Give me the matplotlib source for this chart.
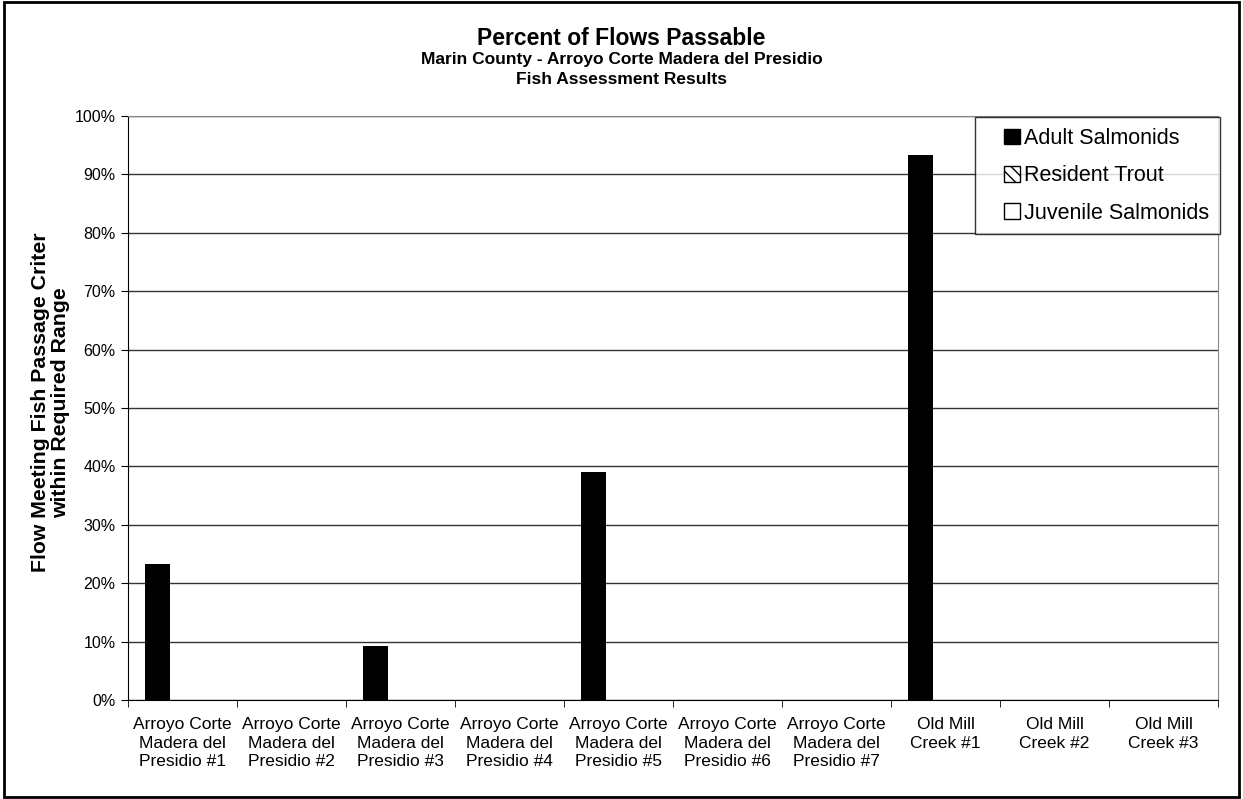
import numpy as np
import matplotlib
matplotlib.use("Agg")
import matplotlib.pyplot as plt
from matplotlib.patches import Rectangle, Patch
from matplotlib.legend_handler import HandlerPatch
from matplotlib.ticker import FixedLocator, PercentFormatter

plt.rcParams['font.family'] = ['Liberation Sans', 'DejaVu Sans']

# Data
sites = ["Arroyo Corte\nMadera del\nPresidio #1", "Arroyo Corte\nMadera del\nPresidio #2",
         "Arroyo Corte\nMadera del\nPresidio #3", "Arroyo Corte\nMadera del\nPresidio #4",
         "Arroyo Corte\nMadera del\nPresidio #5", "Arroyo Corte\nMadera del\nPresidio #6",
         "Arroyo Corte\nMadera del\nPresidio #7", "Old Mill\nCreek #1",
         "Old Mill\nCreek #2", "Old Mill\nCreek #3"]
adult = [23.3, 0, 9.2, 0, 39.0, 0, 0, 93.4, 0, 0]
resident = [0, 0, 0, 0, 0, 0, 0, 0, 0, 0]
juvenile = [0, 0, 0, 0, 0, 0, 0, 0, 0, 0]
series_names = ["Adult Salmonids", "Resident Trout", "Juvenile Salmonids"]

fig = plt.figure(figsize=(12.43, 7.99), dpi=100)
ax = fig.add_axes([128/1243, 99/799, 1090/1243, 584/799])

x = np.arange(len(sites))
w = 0.228
# no outline on empty bars, like the original
lw = lambda vals: [1.0 if v > 0 else 0 for v in vals]
ax.bar(x - w, adult, w, color='black', zorder=3)
ax.bar(x, resident, w, color='white', edgecolor='black', hatch='\\\\\\',
       linewidth=lw(resident), zorder=3)
ax.bar(x + w, juvenile, w, color='white', edgecolor='black',
       linewidth=lw(juvenile), zorder=3)

ax.set_xlim(-0.5, len(sites) - 0.5)
ax.set_ylim(0, 100)
ax.set_yticks(np.arange(0, 101, 10))
ax.yaxis.set_major_formatter(PercentFormatter(decimals=0))
ax.yaxis.grid(True, color='#333333', linewidth=1.0, zorder=0)
ax.tick_params(axis='y', direction='out', length=5, labelsize=11.5, pad=4)

ax.set_xticks(x)
ax.set_xticklabels(sites, fontsize=12.5, linespacing=1.32)
ax.tick_params(axis='x', length=0, pad=12)
ax.xaxis.set_minor_locator(FixedLocator(np.arange(-0.5, len(sites), 1.0)))
ax.tick_params(axis='x', which='minor', direction='out', length=5)

for s in ['top', 'right']:
    ax.spines[s].set_color('#888888')
for s in ['left', 'bottom']:
    ax.spines[s].set_color('black')

ax.set_ylabel("Flow Meeting Fish Passage Criter\nwithin Required Range",
              fontsize=15.3, fontweight='bold', linespacing=1.1)
ax.yaxis.set_label_coords(-0.053, 0.51)

fig.text(0.5, 0.952, "Percent of Flows Passable", ha='center', va='center',
         fontsize=16.5, fontweight='bold')
fig.text(0.5, 0.926, "Marin County - Arroyo Corte Madera del Presidio", ha='center',
         va='center', fontsize=12.5, fontweight='bold')
fig.text(0.5, 0.901, "Fish Assessment Results", ha='center', va='center',
         fontsize=12.5, fontweight='bold')


# small square legend keys, right next to the text
def square_key(legend, orig_handle, xdescent, ydescent, width, height, fontsize):
    s = 0.72 * fontsize
    return Rectangle((width - s - xdescent, (height - s) / 2 - ydescent), s, s)


handles = [Patch(facecolor='black', edgecolor='black'),
           Patch(facecolor='white', edgecolor='black', hatch='\\\\\\'),
           Patch(facecolor='white', edgecolor='black')]
leg = ax.legend(handles, series_names, loc='upper right', bbox_to_anchor=(1.002, 0.998),
                fontsize=15.5, frameon=True, fancybox=False, handlelength=1.6,
                handleheight=0.7, handletextpad=0.2, labelspacing=0.76,
                borderpad=0.5, borderaxespad=0,
                handler_map={Patch: HandlerPatch(patch_func=square_key)})
leg.get_frame().set_edgecolor('black')
leg.get_frame().set_linewidth(1.0)
leg.set_zorder(5)

fig.add_artist(Rectangle((0.003, 0.003), 0.994, 0.994, transform=fig.transFigure,
                         fill=False, edgecolor='black', linewidth=2))

fig.savefig('out.png', dpi=100)
